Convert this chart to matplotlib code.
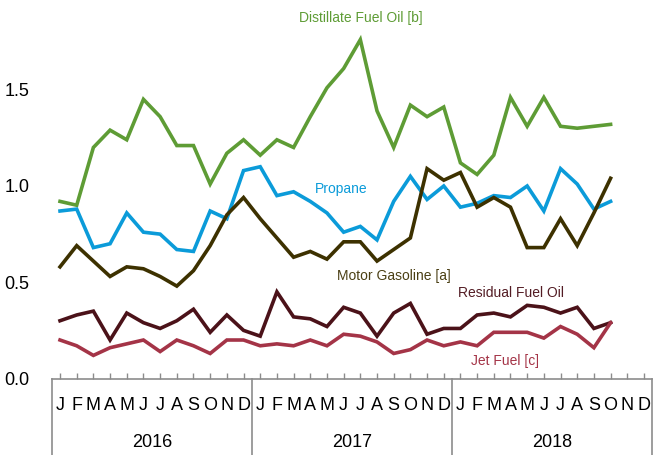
import numpy as np
import matplotlib
matplotlib.use("Agg")
import matplotlib.pyplot as plt

plt.rcParams['font.family'] = ['Liberation Sans', 'DejaVu Sans']

# monthly series, Jan 2016 .. Oct 2018
distillate = [0.92, 0.90, 1.20, 1.29, 1.24, 1.45, 1.36, 1.21, 1.21, 1.01, 1.17, 1.24,
              1.16, 1.24, 1.20, 1.36, 1.51, 1.61, 1.76, 1.39, 1.20, 1.42, 1.36, 1.41,
              1.12, 1.06, 1.16, 1.46, 1.31, 1.46, 1.31, 1.30, 1.31, 1.32]
propane = [0.87, 0.88, 0.68, 0.70, 0.86, 0.76, 0.75, 0.67, 0.66, 0.87, 0.83, 1.08,
           1.10, 0.95, 0.97, 0.92, 0.86, 0.76, 0.79, 0.72, 0.92, 1.05, 0.93, 1.00,
           0.89, 0.91, 0.95, 0.94, 1.00, 0.87, 1.09, 1.01, 0.88, 0.92]
gasoline = [0.58, 0.69, 0.61, 0.53, 0.58, 0.57, 0.53, 0.48, 0.56, 0.69, 0.85, 0.94,
            0.83, 0.73, 0.63, 0.66, 0.62, 0.71, 0.71, 0.61, 0.67, 0.73, 1.09, 1.03,
            1.07, 0.89, 0.94, 0.89, 0.68, 0.68, 0.83, 0.69, 0.86, 1.04]
residual = [0.30, 0.33, 0.35, 0.20, 0.34, 0.29, 0.26, 0.30, 0.36, 0.24, 0.33, 0.25,
            0.22, 0.45, 0.32, 0.31, 0.27, 0.37, 0.34, 0.22, 0.34, 0.39, 0.23, 0.26,
            0.26, 0.33, 0.34, 0.32, 0.38, 0.37, 0.34, 0.37, 0.26, 0.29]
jet_fuel = [0.20, 0.17, 0.12, 0.16, 0.18, 0.20, 0.14, 0.20, 0.17, 0.13, 0.20, 0.20,
            0.17, 0.18, 0.17, 0.20, 0.17, 0.23, 0.22, 0.19, 0.13, 0.15, 0.20, 0.17,
            0.19, 0.17, 0.24, 0.24, 0.24, 0.21, 0.27, 0.23, 0.16, 0.29]

months = ["J", "F", "M", "A", "M", "J", "J", "A", "S", "O", "N", "D"]
years = ["2016", "2017", "2018"]
yticks = [0.0, 0.5, 1.0, 1.5]

series = [
    ("Distillate Fuel Oil [b]", distillate, "#5e9c35", (18.0, 1.87)),
    ("Propane", propane, "#0b9bd9", (16.85, 0.985)),
    ("Motor Gasoline [a]", gasoline, "#3d3100", (20.0, 0.53)),
    ("Residual Fuel Oil", residual, "#4b1219", (27.05, 0.445)),
    ("Jet Fuel [c]", jet_fuel, "#a43447", (26.7, 0.09)),
]
label_colors = {"Motor Gasoline [a]": "#4a3f14", "Residual Fuel Oil": "#531c24"}

fig = plt.figure(figsize=(6.65, 4.55), dpi=100)
ax = fig.add_axes([0.0777, 0.1681, 0.9032, 0.8319])

n_months = len(months) * len(years)
for name, vals, color, (lx, ly) in series:
    x = np.arange(len(vals))
    ax.plot(x, vals, color=color, lw=2.6, solid_joinstyle="miter")
    ax.text(lx, ly, name, color=label_colors.get(name, color), fontsize=10,
            ha="center", va="center")

ax.set_xlim(-0.5, n_months - 0.5)
ax.set_ylim(0, 1.966)

for s in ["top", "right", "left"]:
    ax.spines[s].set_visible(False)
ax.spines["bottom"].set_color("#8c8c8c")
ax.spines["bottom"].set_linewidth(1.2)

ax.set_yticks(yticks)
ax.set_yticklabels([f"{v:.1f}" for v in yticks], fontsize=13)
ax.tick_params(axis="y", length=0, pad=16)

ax.set_xticks(np.arange(n_months))
ax.set_xticklabels([])
ax.tick_params(axis="x", direction="in", length=4, color="#8c8c8c", width=1)

# month letters and year labels under the axis
trans = ax.get_xaxis_transform()
for i in range(n_months):
    ax.text(i, -0.07, months[i % 12], transform=trans, ha="center", va="center",
            fontsize=13, clip_on=False)
for k, yr in enumerate(years):
    ax.text(12 * k + 5.5, -0.17, yr, transform=trans, ha="center", va="center",
            fontsize=13, clip_on=False)
for k in range(len(years) + 1):
    xb = 12 * k - 0.5
    ax.plot([xb, xb], [0, -0.21], transform=trans, color="#8c8c8c", lw=1.2,
            clip_on=False)

fig.savefig("out.png", dpi=100)
